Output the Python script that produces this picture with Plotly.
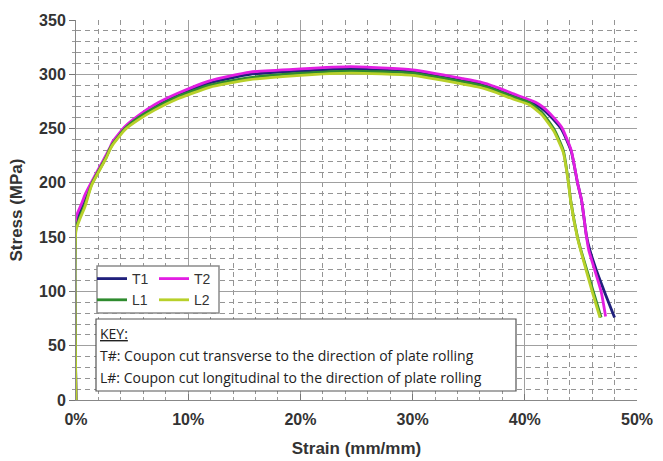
import plotly.graph_objects as go

# ---- data (strain as fraction mm/mm, stress in MPa) ----
t1_strain = [0, 0, 0.005, 0.008, 0.014, 0.0244, 0.027, 0.030, 0.0327, 0.0437, 0.0555, 0.0700, 0.0897,
             0.119, 0.155, 0.200, 0.245, 0.300, 0.345, 0.360, 0.375, 0.390, 0.400, 0.410, 0.416, 0.425,
             0.433, 0.4414, 0.447, 0.4506, 0.455, 0.458, 0.465, 0.472, 0.480]
t1_stress = [0, 162, 178, 186, 199, 219, 224, 231, 236, 250, 260, 270, 280,
             292, 300, 303, 305, 302, 294, 291, 286, 280, 276, 272, 268, 259,
             249, 229, 200, 184, 151, 138, 116, 97, 76]

t2_strain = [0, 0, 0.005, 0.008, 0.014, 0.0244, 0.027, 0.030, 0.0327, 0.0437, 0.0555, 0.0700, 0.0897,
             0.119, 0.155, 0.200, 0.245, 0.300, 0.345, 0.360, 0.375, 0.390, 0.400, 0.410, 0.416, 0.425,
             0.433, 0.4414, 0.447, 0.4506, 0.455, 0.457, 0.468, 0.472]
t2_stress = [0, 168, 181, 189, 201, 221, 226, 232, 238, 252, 262, 272, 282,
             294, 302, 305, 307, 304, 296, 293, 288, 282, 278, 274, 270, 261,
             251, 230, 200, 184, 150, 138, 100, 77]

l1_strain = [0, 0, 0.004, 0.008, 0.014, 0.0244, 0.027, 0.030, 0.0327, 0.0437, 0.0555, 0.0700, 0.0897,
             0.119, 0.155, 0.200, 0.245, 0.300, 0.345, 0.360, 0.375, 0.390, 0.404, 0.415, 0.4257,
             0.4343, 0.439, 0.4409, 0.447, 0.450, 0.461, 0.468]
l1_stress = [0, 158, 170, 180, 199, 219, 224, 231, 236, 250, 260, 269, 279,
             290, 297, 301, 303, 301, 293, 290, 285, 279, 274, 265, 250,
             230, 200, 184, 150, 138, 100, 76]

l2_strain = [0, 0, 0.004, 0.008, 0.014, 0.0244, 0.027, 0.030, 0.0327, 0.0437, 0.0555, 0.0700, 0.0897,
             0.119, 0.155, 0.200, 0.245, 0.300, 0.345, 0.360, 0.375, 0.390, 0.404, 0.415, 0.4257,
             0.4343, 0.439, 0.4409, 0.447, 0.450, 0.460, 0.467]
l2_stress = [0, 156, 168, 178, 198, 218, 223, 230, 235, 249, 258, 267, 277,
             288, 295, 299, 301, 299, 291, 288, 283, 277, 272, 263, 248,
             228, 199, 183, 149, 137, 100, 76]

x_ticks = [0, 0.1, 0.2, 0.3, 0.4, 0.5]
x_tick_labels = ["0%", "10%", "20%", "30%", "40%", "50%"]
y_ticks = [0, 50, 100, 150, 200, 250, 300, 350]

key_lines = ["<u>KEY:</u>",
             "T#: Coupon cut transverse to the direction of plate rolling",
             "L#: Coupon cut longitudinal to the direction of plate rolling"]

# ---- figure ----
W, H = 663, 461
ML, MR, MT, MB = 76, 26, 20, 61
PW, PH = W - ML - MR, H - MT - MB


def px2paper_x(px):
    return (px - ML) / PW


def px2paper_y(py):
    return (H - MB - py) / PH


fig = go.Figure()
series = [
    ("T1", t1_strain, t1_stress, "#20207c", "legend", 1),
    ("T2", t2_strain, t2_stress, "#e21ee2", "legend2", 1),
    ("L1", l1_strain, l1_stress, "#2e8b2e", "legend", 2),
    ("L2", l2_strain, l2_stress, "#b8d02a", "legend2", 2),
]
for name, xs, ys, col, lg, rk in series:
    fig.add_trace(go.Scatter(x=xs, y=ys, mode="lines", name=name,
                             line=dict(color=col, width=2.8, shape="spline", smoothing=0.5),
                             legend=lg, legendrank=rk))

tick_font = dict(family="Liberation Sans", size=16, color="#333333", weight="bold")
title_font = dict(family="Liberation Sans", size=17, color="#333333", weight="bold")

fig.update_xaxes(range=[0, 0.5], tickvals=x_ticks, ticktext=x_tick_labels, automargin=False,
                 tickfont=tick_font, showline=True, linecolor="#888888", linewidth=1,
                 ticks="inside", ticklen=6, tickcolor="#777777", ticklabelstandoff=5,
                 showgrid=True, gridcolor="#a0a0a0", gridwidth=1, zeroline=False,
                 minor=dict(dtick=0.02, showgrid=True, gridcolor="#959595", griddash="5px,4px",
                            ticks="inside", ticklen=3, tickcolor="#999999"),
                 title=dict(text="Strain (mm/mm)", font=title_font, standoff=14))
fig.update_yaxes(range=[0, 350], tickvals=y_ticks, automargin=False,
                 tickfont=tick_font, showline=True, linecolor="#888888", linewidth=1,
                 ticks="outside", ticklen=6, tickcolor="#777777",
                 showgrid=True, gridcolor="#a0a0a0", gridwidth=1, zeroline=False,
                 minor=dict(dtick=10, showgrid=True, gridcolor="#959595", griddash="5px,4px",
                            ticks="outside", ticklen=3, tickcolor="#999999"),
                 title=dict(text="Stress (MPa)", font=title_font, standoff=12))

shapes = [
    # legend box
    dict(type="rect", xref="paper", yref="paper", layer="above",
         x0=px2paper_x(97), x1=px2paper_x(219), y0=px2paper_y(313), y1=px2paper_y(266),
         fillcolor="white", line=dict(color="#8a8a8a", width=1.5)),
    # key box
    dict(type="rect", xref="paper", yref="paper", layer="above",
         x0=px2paper_x(96), x1=px2paper_x(516), y0=px2paper_y(391), y1=px2paper_y(319),
         fillcolor="white", line=dict(color="#555555", width=1.2)),
]

key_font = dict(family="Open Sans", size=14, color="#222222")
annotations = []
for txt, py in zip(key_lines, [333, 355, 377]):
    annotations.append(dict(text=txt, xref="paper", yref="paper", x=px2paper_x(98),
                            y=px2paper_y(py), xanchor="left", yanchor="middle",
                            showarrow=False, font=key_font))

leg_font = dict(family="Liberation Sans", size=14, color="#333333")
fig.update_layout(
    width=W, height=H,
    margin=dict(l=ML, r=MR, t=MT, b=MB, autoexpand=False),
    paper_bgcolor="white", plot_bgcolor="white",
    shapes=shapes, annotations=annotations,
    showlegend=True,
    legend=dict(x=px2paper_x(92), y=px2paper_y(263), xanchor="left", yanchor="top",
                bgcolor="rgba(0,0,0,0)", borderwidth=0, font=leg_font,
                traceorder="normal", itemwidth=30, tracegroupgap=0),
    legend2=dict(x=px2paper_x(154), y=px2paper_y(263), xanchor="left", yanchor="top",
                 bgcolor="rgba(0,0,0,0)", borderwidth=0, font=leg_font,
                 traceorder="normal", itemwidth=30, tracegroupgap=0),
)

fig.write_html("out.html", config={"displayModeBar": False},
               post_script="document.body.style.margin='0';")
